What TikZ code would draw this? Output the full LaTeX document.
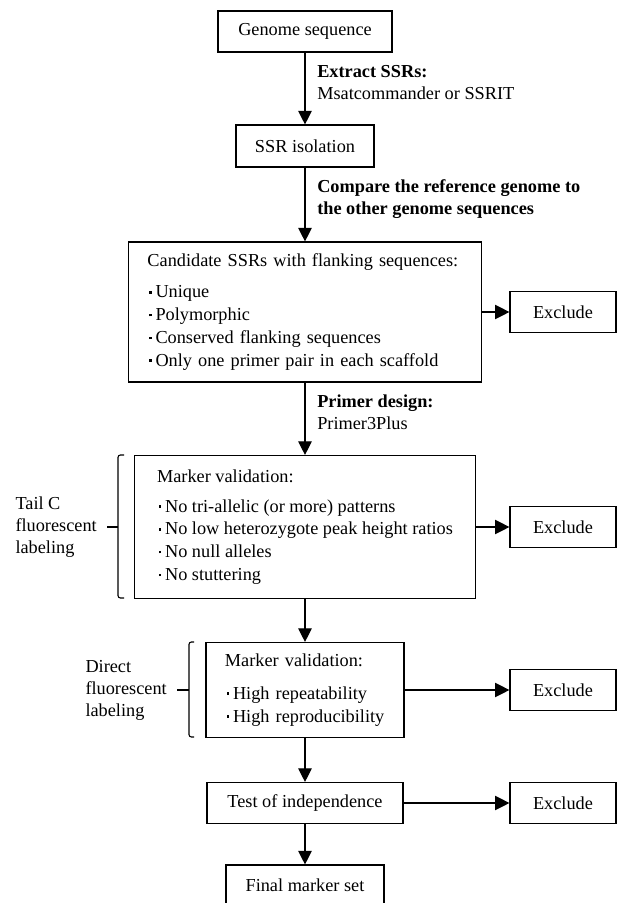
\documentclass[tikz,border=0pt]{standalone}
\usepackage{fontspec}
\setmainfont{Liberation Serif}
\usetikzlibrary{arrows.meta}
\newcommand{\listdot}{\hspace{0.1em}\rule[0.24em]{0.14em}{0.14em}\hspace{0.2em}}

\begin{document}
\begin{tikzpicture}[x=0.025cm, y=-0.025cm,
        box/.style={draw, line width=0.8pt, inner sep=0pt, font=\fontsize{13pt}{16.2pt}\selectfont},
        listbox/.style={box, align=left, inner xsep=0.475cm},
        sidetext/.style={align=left, inner sep=0pt, font=\fontsize{13pt}{15.6pt}\selectfont},
        flow/.style={line width=0.8pt, -{Triangle[length=0.34cm, width=0.34cm]}},
        sideflow/.style={line width=0.8pt, -{Triangle[length=0.36cm, width=0.36cm]}},
        brace/.style={line width=0.8pt, rounded corners=0.06cm}]
            \useasboundingbox (0,0) rectangle (618,903);

            % main column
            \node[box, minimum width=4.35cm, minimum height=1.025cm] (genome) at (305, 31.5) {Genome sequence};
            \node[box, minimum width=3.45cm, minimum height=1.05cm] (ssr) at (305, 146) {SSR isolation};
            \node[listbox, text width=7.875cm, minimum height=3.5cm] (cand) at (305, 312) {Candidate SSRs with flanking sequences:\\[6pt]
                \listdot Unique\\ \listdot Polymorphic\\ \listdot Conserved flanking sequences\\ \listdot Only one primer pair in each scaffold};
            \node[listbox, inner xsep=0pt, minimum width=8.525cm, minimum height=3.575cm] (marker1) at (305, 527) {Marker validation:\\[5pt]
                \listdot No tri-allelic (or more) patterns\\ \listdot No low heterozygote peak height ratios\\ \listdot No null alleles\\ \listdot No stuttering};
            \node[listbox, text width=4.0cm, minimum height=2.375cm] (marker2) at (305, 690) {Marker validation:\\[7pt]
                \listdot High repeatability\\ \listdot High reproducibility};
            \node[box, minimum width=4.9cm, minimum height=1.025cm] (test) at (305, 803) {Test of independence};
            \node[box, minimum width=3.95cm, minimum height=1.025cm] (final) at (305, 885.5) {Final marker set};

            % exclude boxes
            \node[box, minimum width=2.65cm, minimum height=1.025cm] (excl1) at (563, 312) {Exclude};
            \node[box, minimum width=2.65cm, minimum height=1.025cm] (excl2) at (563, 527) {Exclude};
            \node[box, minimum width=2.65cm, minimum height=1.025cm] (excl3) at (563, 690) {Exclude};
            \node[box, minimum width=2.65cm, minimum height=1.025cm] (excl4) at (563, 803) {Exclude};

            % step labels
            \node[sidetext, anchor=west] (extract) at (317, 82.5) {\textbf{Extract SSRs:}\\Msatcommander or SSRIT};
            \node[sidetext, anchor=west] (compare) at (317, 199) {\textbf{Compare the reference genome to}\\\textbf{the other genome sequences}};
            \node[sidetext, anchor=west] (primer) at (317, 412.5) {\textbf{Primer design:}\\Primer3Plus};

            % braces with their labels
            \coordinate (tailtick) at (107, 527);
            \coordinate (directtick) at (177, 690);
            \draw[brace] (124, 455) -- (118, 455) -- (118, 598) -- (124, 598);
            \draw[brace] (118, 527) -- (tailtick);
            \draw[brace] (194, 642) -- (189, 642) -- (189, 737) -- (194, 737);
            \draw[brace] (189, 690) -- (directtick);
            \node[sidetext, anchor=east, xshift=-0.25cm] (tailc) at (tailtick) {Tail C\\fluorescent\\labeling};
            \node[sidetext, anchor=east, xshift=-0.25cm] (direct) at (directtick) {Direct\\fluorescent\\labeling};

            \draw[flow] (genome) -- (ssr);
            \draw[flow] (ssr) -- (cand);
            \draw[flow] (cand) -- (marker1);
            \draw[flow] (marker1) -- (marker2);
            \draw[flow] (marker2) -- (test);
            \draw[flow] (test) -- (final);

            \draw[sideflow] (cand) -- (excl1);
            \draw[sideflow] (marker1) -- (excl2);
            \draw[sideflow] (marker2) -- (excl3);
            \draw[sideflow] (test) -- (excl4);

        \end{tikzpicture}
\end{document}
